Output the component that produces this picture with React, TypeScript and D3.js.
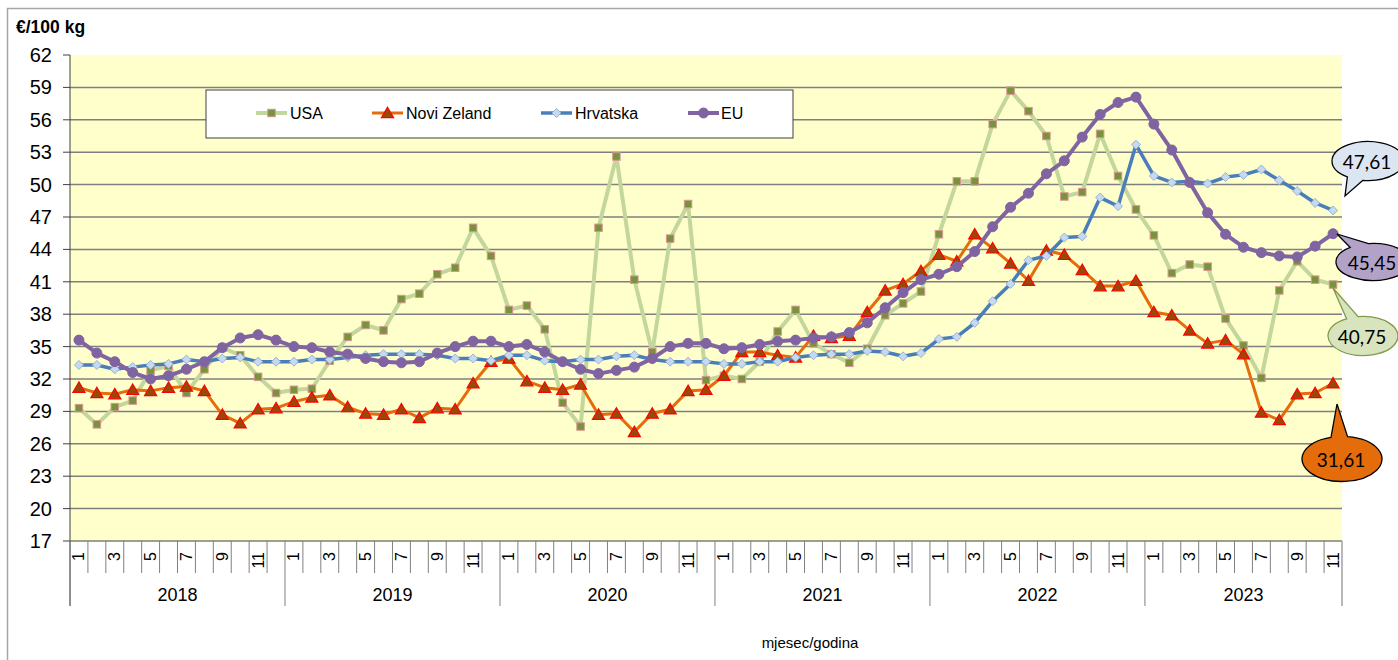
import React from 'react';
import * as d3 from 'd3';

const years = ['2018', '2019', '2020', '2021', '2022', '2023'];
const monthsPerYear = [12, 12, 12, 12, 12, 11];
const yTicks = [17, 20, 23, 26, 29, 32, 35, 38, 41, 44, 47, 50, 53, 56, 59, 62];
const monthLabels = ['1', '3', '5', '7', '9', '11'];

const usa = [
  29.3, 27.8, 29.4, 30.0, 32.8, 33.2, 30.7, 32.9, 34.9, 34.2, 32.2, 30.7,
  31.0, 31.1, 33.7, 35.9, 37.0, 36.5, 39.4, 39.9, 41.7, 42.3, 46.0, 43.4,
  38.4, 38.8, 36.6, 29.8, 27.6, 46.0, 52.6, 41.2, 34.5, 45.0, 48.2, 31.9,
  32.3, 32.0, 33.6, 36.4, 38.4, 35.3, 34.3, 33.5, 34.8, 37.9, 39.0, 40.1,
  45.4, 50.3, 50.3, 55.6, 58.7, 56.8, 54.5, 48.9, 49.3, 54.7, 50.8, 47.7,
  45.3, 41.8, 42.6, 42.4, 37.6, 35.1, 32.1, 40.2, 42.9, 41.2, 40.75,
];
const noviZeland = [
  31.2, 30.7, 30.6, 31.0, 30.9, 31.2, 31.3, 30.9, 28.7, 27.9, 29.2, 29.3,
  29.9, 30.3, 30.5, 29.4, 28.8, 28.7, 29.2, 28.4, 29.3, 29.2, 31.6, 33.6,
  33.9, 31.8, 31.2, 31.0, 31.5, 28.7, 28.8, 27.1, 28.8, 29.2, 30.9, 31.0,
  32.3, 34.5, 34.5, 34.2, 34.0, 36.0, 35.8, 36.0, 38.2, 40.2, 40.8, 42.0,
  43.5, 42.9, 45.4, 44.1, 42.7, 41.1, 43.9, 43.5, 42.1, 40.6, 40.6, 41.1,
  38.2, 37.9, 36.5, 35.3, 35.6, 34.3, 28.9, 28.2, 30.6, 30.7, 31.61,
];
const hrvatska = [
  33.3, 33.3, 32.9, 33.1, 33.3, 33.4, 33.8, 33.6, 33.9, 34.0, 33.6, 33.6,
  33.6, 33.8, 33.8, 34.0, 34.2, 34.3, 34.3, 34.3, 34.2, 33.9, 33.9, 33.7,
  34.2, 34.2, 33.7, 33.6, 33.8, 33.8, 34.1, 34.2, 33.8, 33.6, 33.6, 33.6,
  33.4, 33.4, 33.6, 33.6, 34.0, 34.2, 34.3, 34.3, 34.6, 34.5, 34.1, 34.4,
  35.7, 35.9, 37.2, 39.2, 40.8, 43.0, 43.4, 45.1, 45.2, 48.8, 48.0, 53.7,
  50.8, 50.2, 50.3, 50.1, 50.7, 50.9, 51.4, 50.4, 49.4, 48.3, 47.61,
];
const eu = [
  35.6, 34.4, 33.6, 32.6, 32.0, 32.3, 32.9, 33.6, 34.9, 35.8, 36.1, 35.6,
  35.0, 34.9, 34.5, 34.3, 33.9, 33.6, 33.5, 33.6, 34.4, 35.0, 35.5, 35.5,
  35.0, 35.2, 34.5, 33.6, 32.9, 32.5, 32.8, 33.1, 33.9, 35.0, 35.3, 35.3,
  34.8, 34.9, 35.2, 35.5, 35.6, 35.8, 35.9, 36.3, 37.2, 38.6, 40.0, 41.2,
  41.7, 42.4, 43.8, 46.1, 47.9, 49.2, 51.0, 52.2, 54.4, 56.5, 57.6, 58.1,
  55.6, 53.2, 50.2, 47.4, 45.4, 44.2, 43.7, 43.4, 43.3, 44.3, 45.45,
];

const seriesNames = ['USA', 'Novi Zeland', 'Hrvatska', 'EU'];
const lastLabels = ['40,75', '31,61', '47,61', '45,45'];

const categories = years.flatMap((yr, i) =>
  d3.range(1, monthsPerYear[i] + 1).map((m) => `${yr}-${m}`)
);

const FONT = "'Liberation Sans', Arial, sans-serif";

type Style = {
  line: string;
  width: number;
  marker: 'square' | 'triangle' | 'diamond' | 'circle';
  mFill: string;
  mStroke: string;
  mSize: number;
};

const styles: Style[] = [
  { line: '#c3d69b', width: 4, marker: 'square', mFill: '#77933c', mStroke: '#d99694', mSize: 7.5 },
  { line: '#e46c0a', width: 3, marker: 'triangle', mFill: '#984807', mStroke: '#ff0000', mSize: 11 },
  { line: '#4a7ebb', width: 3.5, marker: 'diamond', mFill: '#c6d9f1', mStroke: '#95b3d7', mSize: 9 },
  { line: '#8064a2', width: 4, marker: 'circle', mFill: '#8064a2', mStroke: '#8064a2', mSize: 10 },
];

function Marker({ s, x, y }: { s: Style; x: number; y: number }) {
  const h = s.mSize / 2;
  if (s.marker === 'square')
    return <rect x={x - h} y={y - h} width={s.mSize} height={s.mSize} fill={s.mFill} stroke={s.mStroke} strokeWidth={1} />;
  if (s.marker === 'triangle')
    return (
      <path
        d={`M${x},${y - h * 1.05} L${x + h * 1.1},${y + h * 0.85} L${x - h * 1.1},${y + h * 0.85} Z`}
        fill={s.mFill}
        stroke={s.mStroke}
        strokeWidth={1.2}
        strokeLinejoin="miter"
      />
    );
  if (s.marker === 'diamond')
    return <path d={`M${x},${y - h} L${x + h},${y} L${x},${y + h} L${x - h},${y} Z`} fill={s.mFill} stroke={s.mStroke} strokeWidth={1} />;
  return <circle cx={x} cy={y} r={h} fill={s.mFill} stroke={s.mStroke} strokeWidth={1} />;
}

function calloutPath(cx: number, cy: number, rx: number, ry: number, tx: number, ty: number, a1: number, a2: number) {
  const r = Math.PI / 180;
  const p1 = [cx + rx * Math.cos(a1 * r), cy + ry * Math.sin(a1 * r)];
  const p2 = [cx + rx * Math.cos(a2 * r), cy + ry * Math.sin(a2 * r)];
  return `M${p1[0]},${p1[1]} L${tx},${ty} L${p2[0]},${p2[1]} A${rx},${ry} 0 1 1 ${p1[0]},${p1[1]} Z`;
}

export default function App() {
  const W = 1398;
  const H = 660;
  const left = 70;
  const right = 1342;
  const top = 55;
  const bottom = 541;

  const x = d3.scaleBand<string>().domain(categories).range([left, right]).padding(0);
  const y = d3.scaleLinear().domain([17, 62]).range([bottom, top]);
  const bw = x.bandwidth();
  const cx = (i: number) => (x(categories[i]) as number) + bw / 2;

  const allSeries = [usa, noviZeland, hrvatska, eu];
  const line = d3
    .line<number>()
    .x((_, i) => cx(i))
    .y((d) => y(d));

  // year boundaries
  let acc = 0;
  const yearSpans = years.map((yr, i) => {
    const start = acc;
    acc += monthsPerYear[i];
    const x0 = x(categories[start]) as number;
    const x1 = (x(categories[acc - 1]) as number) + bw;
    return { yr, x0, x1 };
  });

  const last = categories.length - 1;
  const callouts = [
    { idx: 2, cx: 1368, cy: 161, rx: 36, ry: 19.5, a1: 98, a2: 125, tdx: -23, tdy: 35, fill: '#dce6f2', stroke: '#000000' },
    { idx: 3, cx: 1373, cy: 262, rx: 37, ry: 18.5, a1: -128, a2: -97, tdx: -36, tdy: -28, fill: '#b3a2c7', stroke: '#000000' },
    { idx: 0, cx: 1363, cy: 336, rx: 35, ry: 19.5, a1: -118, a2: -98, tdx: -30, tdy: -48, fill: '#d7e4bd', stroke: '#7f9a4c' },
    { idx: 1, cx: 1342, cy: 459, rx: 40, ry: 22.5, a1: -106, a2: -82, tdx: -5, tdy: -55, fill: '#e46c0a', stroke: '#000000' },
  ];

  const legendItems = [
    { lx: 256, tx: 290 },
    { lx: 372, tx: 406 },
    { lx: 541, tx: 575 },
    { lx: 688, tx: 721 },
  ];

  return (
    <svg width={W} height={H} style={{ position: 'absolute', left: 0, top: 0, display: 'block' }} fontFamily={FONT}>
      <rect x={0} y={0} width={W} height={H} fill="#ffffff" />
      <rect x={7.5} y={8.5} width={W + 20} height={H + 20} fill="none" stroke="#a6a6a6" strokeWidth={1.5} />

      <text x={16} y={33} fontSize={17.5} fontWeight="bold" fill="#000">€/100 kg</text>

      {/* plot area */}
      <rect x={left} y={top} width={right - left} height={bottom - top} fill="#ffffcc" />

      {/* gridlines */}
      {yTicks.map((t) => (
        <g key={t}>
          {t !== 17 && t !== 62 && (
            <line x1={left} x2={right} y1={y(t)} y2={y(t)} stroke="#7f7f7f" strokeWidth={1.5} />
          )}
          <line x1={63} x2={left} y1={y(t)} y2={y(t)} stroke="#404040" strokeWidth={1} />
          <text x={52} y={y(t)} fontSize={20} textAnchor="end" dominantBaseline="central" fill="#000">
            {t}
          </text>
        </g>
      ))}

      {/* axes */}
      <line x1={left} x2={left} y1={top} y2={606} stroke="#404040" strokeWidth={1} />
      <line x1={left} x2={right} y1={bottom} y2={bottom} stroke="#404040" strokeWidth={1.2} />

      {/* month ticks */}
      {categories.map((c, i) => {
        const xb = x(c) as number;
        const isYearStart = yearSpans.some((s) => Math.abs(s.x0 - xb) < 0.01);
        return isYearStart ? null : (
          <line key={c} x1={xb} x2={xb} y1={bottom} y2={573} stroke="#808080" strokeWidth={1} />
        );
      })}
      {yearSpans.map((s) => (
        <g key={s.yr}>
          <line x1={s.x0} x2={s.x0} y1={bottom} y2={606} stroke="#808080" strokeWidth={1} />
          <text x={(s.x0 + s.x1) / 2} y={601} fontSize={18} textAnchor="middle" fill="#000">
            {s.yr}
          </text>
        </g>
      ))}
      <line x1={right} x2={right} y1={bottom} y2={606} stroke="#a0a0a0" strokeWidth={1.5} />

      {categories.map((c, i) => {
        const m = c.split('-')[1];
        if (!monthLabels.includes(m)) return null;
        const xc = cx(i);
        return (
          <text
            key={'m' + c}
            x={xc}
            y={552}
            fontSize={16}
            textAnchor="end"
            dominantBaseline="central"
            transform={`rotate(-90, ${xc}, 552)`}
            fill="#000"
          >
            {m}
          </text>
        );
      })}

      <text x={810} y={648} fontSize={15} textAnchor="middle" fill="#000">mjesec/godina</text>

      {/* series */}
      {allSeries.map((data, si) => {
        const s = styles[si];
        return (
          <g key={seriesNames[si]}>
            <path d={line(data) || ''} fill="none" stroke={s.line} strokeWidth={s.width} strokeLinejoin="round" />
            {data.map((v, i) => (
              <Marker key={i} s={s} x={cx(i)} y={y(v)} />
            ))}
          </g>
        );
      })}

      {/* legend */}
      <rect x={206} y={90} width={587} height={48} fill="#ffffff" stroke="#404040" strokeWidth={1} />
      {seriesNames.map((n, i) => {
        const s = styles[i];
        const li = legendItems[i];
        return (
          <g key={'lg' + n}>
            <line x1={li.lx} x2={li.lx + 31} y1={113} y2={113} stroke={s.line} strokeWidth={s.width} />
            <Marker s={s} x={li.lx + 15.5} y={113} />
            <text x={li.tx} y={113} fontSize={16} dominantBaseline="central" fill="#000">
              {n}
            </text>
          </g>
        );
      })}

      {/* callouts */}
      {callouts.map((c) => {
        const tx = cx(last) + (c.cx - cx(last)) * 0 + 0;
        const vy = y(allSeries[c.idx][last]);
        const tipX = c.cx + c.tdx;
        const tipY = c.cy + c.tdy;
        return (
          <g key={'co' + c.idx}>
            <path
              d={calloutPath(c.cx, c.cy, c.rx, c.ry, tipX, tipY, c.a1, c.a2)}
              fill={c.fill}
              stroke={c.stroke}
              strokeWidth={1.3}
              strokeLinejoin="miter"
              data-tx={tx}
              data-vy={vy}
            />
            <text
              x={c.cx - 1}
              y={c.cy}
              fontSize={19}
              textAnchor="middle"
              dominantBaseline="central"
              fontFamily="Lato, 'Open Sans', sans-serif"
              fill="#000"
            >
              {lastLabels[c.idx]}
            </text>
          </g>
        );
      })}
    </svg>
  );
}
